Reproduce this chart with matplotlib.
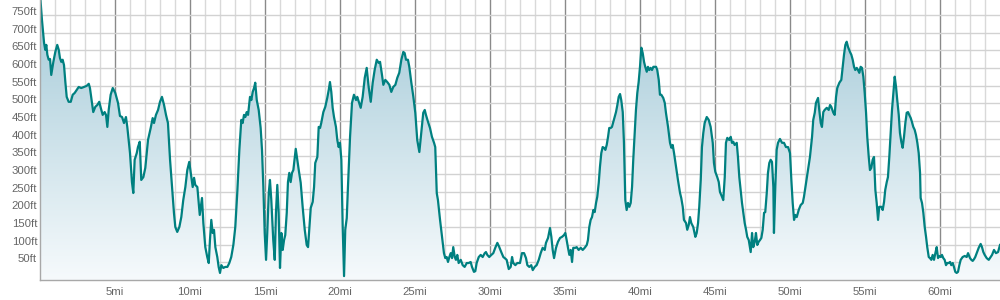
import numpy as np
import matplotlib
matplotlib.use("Agg")
import matplotlib.pyplot as plt
from matplotlib.colors import LinearSegmentedColormap

miles = [
    0.00, 0.13, 0.27, 0.35, 0.42, 0.49, 0.58, 0.67, 0.75, 0.89, 1.02, 1.15, 1.25, 1.33, 1.42, 1.51, 1.60, 1.69, 1.78, 1.91,
    2.05, 2.18, 2.31, 2.45, 2.58, 2.75, 2.93, 3.11, 3.25, 3.33, 3.42, 3.55, 3.69, 3.82, 3.95, 4.05, 4.18, 4.31, 4.40, 4.49,
    4.58, 4.71, 4.85, 5.02, 5.20, 5.33, 5.47, 5.60, 5.73, 5.82, 6.00, 6.13, 6.22, 6.31, 6.45, 6.53, 6.65, 6.75, 6.89, 7.02,
    7.20, 7.38, 7.51, 7.60, 7.73, 7.87, 8.00, 8.13, 8.27, 8.40, 8.53, 8.67, 8.80, 8.93, 9.02, 9.15, 9.29, 9.42, 9.55, 9.69,
    9.82, 9.95, 10.09, 10.18, 10.27, 10.35, 10.49, 10.65, 10.80, 10.89, 11.02, 11.15, 11.25, 11.33, 11.42, 11.51, 11.60,
    11.69, 11.82, 11.91, 12.00, 12.09, 12.22, 12.35, 12.49, 12.62, 12.75, 12.89, 13.02, 13.15, 13.29, 13.42, 13.51, 13.60,
    13.69, 13.78, 13.87, 14.00, 14.09, 14.18, 14.27, 14.35, 14.45, 14.58, 14.71, 14.80, 14.89, 14.98, 15.07, 15.15, 15.25,
    15.33, 15.42, 15.55, 15.65, 15.73, 15.82, 15.91, 16.00, 16.09, 16.18, 16.27, 16.35, 16.45, 16.53, 16.62, 16.71, 16.80,
    16.89, 16.98, 17.05, 17.15, 17.25, 17.38, 17.51, 17.65, 17.78, 17.87, 17.95, 18.05, 18.18, 18.27, 18.35, 18.49, 18.58,
    18.67, 18.75, 18.89, 19.02, 19.15, 19.25, 19.33, 19.42, 19.51, 19.60, 19.73, 19.82, 19.91, 20.00, 20.09, 20.18, 20.27,
    20.35, 20.45, 20.53, 20.67, 20.80, 20.93, 21.07, 21.15, 21.38, 21.51, 21.65, 21.78, 21.91, 22.05, 22.18, 22.31, 22.45,
    22.58, 22.67, 22.80, 22.89, 23.02, 23.15, 23.29, 23.42, 23.55, 23.69, 23.82, 23.95, 24.09, 24.22, 24.31, 24.40, 24.53,
    24.62, 24.75, 24.89, 25.02, 25.15, 25.29, 25.42, 25.55, 25.65, 25.73, 25.87, 26.00, 26.13, 26.27, 26.35, 26.45, 26.53,
    26.67, 26.80, 26.93, 27.02, 27.11, 27.20, 27.29, 27.38, 27.47, 27.55, 27.65, 27.73, 27.82, 27.91, 28.05, 28.18, 28.31,
    28.45, 28.58, 28.71, 28.80, 28.93, 29.02, 29.11, 29.25, 29.38, 29.51, 29.65, 29.73, 29.82, 29.95, 30.09, 30.22, 30.35,
    30.49, 30.62, 30.75, 30.89, 30.98, 31.11, 31.25, 31.38, 31.47, 31.55, 31.69, 31.82, 32.00, 32.13, 32.27, 32.40, 32.49,
    32.62, 32.75, 32.85, 32.98, 33.11, 33.25, 33.38, 33.51, 33.65, 33.73, 33.87, 34.00, 34.09, 34.18, 34.27, 34.40, 34.53,
    34.67, 34.80, 34.93, 35.02, 35.11, 35.20, 35.29, 35.38, 35.47, 35.55, 35.69, 35.78, 35.91, 36.05, 36.18, 36.31, 36.45,
    36.53, 36.62, 36.71, 36.80, 36.89, 36.98, 37.07, 37.15, 37.25, 37.33, 37.42, 37.51, 37.60, 37.69, 37.78, 37.87, 37.95,
    38.05, 38.13, 38.22, 38.31, 38.40, 38.49, 38.58, 38.67, 38.75, 38.85, 38.93, 39.02, 39.11, 39.20, 39.29, 39.38, 39.47,
    39.55, 39.65, 39.73, 39.82, 39.91, 40.00, 40.09, 40.18, 40.27, 40.35, 40.45, 40.53, 40.62, 40.71, 40.80, 40.89, 40.98,
    41.07, 41.15, 41.25, 41.33, 41.42, 41.55, 41.65, 41.73, 41.87, 42.00, 42.09, 42.18, 42.27, 42.40, 42.53, 42.67, 42.75,
    42.85, 42.93, 43.07, 43.15, 43.25, 43.33, 43.42, 43.55, 43.69, 43.78, 43.87, 43.95, 44.05, 44.13, 44.22, 44.31, 44.45,
    44.58, 44.71, 44.85, 44.93, 45.02, 45.15, 45.25, 45.33, 45.47, 45.55, 45.65, 45.73, 45.82, 45.95, 46.05, 46.13, 46.22,
    46.31, 46.45, 46.53, 46.62, 46.71, 46.80, 46.89, 46.98, 47.07, 47.15, 47.25, 47.33, 47.38, 47.47, 47.55, 47.65, 47.73,
    47.82, 47.91, 48.00, 48.09, 48.18, 48.27, 48.35, 48.45, 48.53, 48.62, 48.71, 48.80, 48.89, 48.93, 49.02, 49.11, 49.20,
    49.33, 49.47, 49.60, 49.73, 49.87, 50.00, 50.09, 50.18, 50.27, 50.35, 50.45, 50.58, 50.71, 50.85, 50.93, 51.07, 51.20,
    51.33, 51.47, 51.55, 51.65, 51.73, 51.87, 51.95, 52.05, 52.13, 52.22, 52.31, 52.45, 52.58, 52.67, 52.75, 52.89, 52.98,
    53.07, 53.15, 53.29, 53.42, 53.51, 53.60, 53.69, 53.78, 53.87, 54.00, 54.09, 54.18, 54.27, 54.35, 54.45, 54.53, 54.62,
    54.71, 54.80, 54.89, 54.98, 55.07, 55.15, 55.25, 55.33, 55.42, 55.51, 55.60, 55.69, 55.78, 55.87, 55.95, 56.09, 56.18,
    56.27, 56.35, 56.45, 56.53, 56.62, 56.71, 56.80, 56.89, 56.98, 57.07, 57.15, 57.25, 57.33, 57.42, 57.51, 57.60, 57.69,
    57.78, 57.87, 57.95, 58.05, 58.13, 58.22, 58.31, 58.40, 58.49, 58.58, 58.67, 58.71, 58.80, 58.89, 58.98, 59.07, 59.15,
    59.25, 59.33, 59.42, 59.51, 59.60, 59.69, 59.78, 59.87, 59.95, 60.05, 60.13, 60.22, 60.31, 60.40, 60.49, 60.58, 60.67,
    60.75, 60.85, 60.93, 61.02, 61.11, 61.20, 61.29, 61.38, 61.51, 61.65, 61.78, 61.87, 62.00, 62.09, 62.18, 62.27, 62.35,
    62.45, 62.58, 62.71, 62.80, 62.89, 62.98, 63.11, 63.25, 63.38, 63.47, 63.60, 63.73, 63.87, 64.00,
]

elevation_ft = [
    810, 736, 671, 651, 665, 637, 623, 625, 580, 617, 645, 665, 651, 628, 617, 623, 608, 560, 518, 504,
    504, 524, 529, 538, 546, 543, 546, 549, 555, 543, 515, 475, 490, 495, 504, 487, 467, 475, 467, 433,
    481, 524, 543, 529, 501, 464, 461, 444, 461, 433, 359, 277, 246, 340, 359, 376, 391, 283, 291, 317,
    396, 430, 458, 444, 467, 481, 504, 518, 495, 467, 444, 340, 263, 190, 150, 136, 150, 178, 226, 263,
    311, 334, 291, 263, 289, 269, 263, 184, 232, 161, 93, 65, 48, 113, 170, 133, 142,
    93, 65, 37, 20, 42, 34, 37, 37, 48, 65, 99, 150, 246, 368, 453, 444, 467,
    461, 475, 467, 518, 509, 532, 543, 558, 509, 481, 430, 368, 263, 133, 57, 133, 246,
    283, 226, 113, 57, 190, 269, 190, 34, 133, 85, 113, 127, 190, 277, 303, 277, 303,
    311, 345, 371, 340, 311, 275, 207, 142, 99, 93, 142, 204, 221, 263, 331, 348, 433,
    430, 444, 475, 490, 515, 538, 560, 532, 487, 461, 433, 396, 376, 388, 340, 150, 11,
    142, 175, 263, 405, 501, 524, 509, 518, 487, 518, 572, 600, 546, 504, 558, 594, 623,
    614, 617, 580, 552, 566, 560, 552, 532, 546, 552, 572, 586, 623, 645, 642, 623, 623,
    603, 560, 518, 473, 396, 362, 416, 473, 481, 467, 447, 430, 405, 388, 376, 246, 226,
    170, 122, 76, 62, 65, 51, 65, 76, 62, 93, 65, 57, 71, 48, 57, 42, 37,
    48, 48, 51, 37, 23, 25, 48, 65, 71, 65, 76, 79, 71, 65, 71, 76, 91,
    105, 93, 79, 65, 62, 57, 31, 37, 65, 48, 42, 48, 48, 76, 76, 62, 42,
    37, 42, 28, 37, 42, 57, 76, 91, 85, 105, 119, 147, 122, 85, 62, 91, 108,
    119, 122, 127, 133, 113, 91, 71, 85, 51, 91, 91, 93, 85, 91, 85, 91, 99,
    113, 150, 170, 178, 198, 192, 218, 235, 275, 320, 359, 376, 374, 368, 382, 405, 430,
    430, 433, 447, 461, 475, 495, 518, 526, 509, 475, 388, 226, 198, 218, 207, 218, 263,
    340, 416, 481, 529, 560, 603, 657, 642, 617, 603, 589, 603, 594, 600, 594, 603, 603,
    603, 594, 566, 524, 524, 515, 501, 473, 433, 388, 374, 382, 359, 320, 283, 246, 232,
    207, 170, 161, 142, 156, 178, 161, 150, 122, 133, 161, 207, 283, 376, 416, 444, 461,
    453, 433, 388, 331, 306, 291, 277, 249, 235, 226, 291, 388, 402, 396, 405, 388, 391,
    382, 388, 348, 291, 255, 218, 190, 161, 142, 122, 113, 91, 79, 133, 93, 108, 133,
    99, 108, 113, 119, 142, 190, 192, 246, 303, 331, 340, 334, 263, 133, 263, 368, 388,
    399, 388, 388, 376, 376, 359, 283, 218, 170, 184, 178, 198, 212, 218, 235, 275, 311,
    348, 405, 453, 473, 501, 515, 481, 444, 433, 475, 481, 487, 481, 495, 490, 473, 467,
    518, 543, 558, 566, 603, 637, 665, 674, 659, 645, 637, 623, 603, 594, 600, 594, 586,
    603, 600, 575, 529, 473, 405, 348, 311, 317, 340, 348, 255, 218, 170, 207, 207, 198,
    221, 255, 277, 291, 348, 416, 481, 529, 575, 546, 509, 467, 416, 391, 374, 405, 444,
    473, 475, 467, 458, 447, 433, 425, 410, 388, 359, 303, 232, 218, 190, 150, 122, 93,
    65, 62, 57, 71, 57, 76, 93, 62, 68, 65, 71, 62, 57, 42, 48, 48, 51,
    42, 48, 37, 23, 20, 23, 42, 57, 65, 68, 65, 76, 62, 57, 54, 59, 65,
    76, 91, 102, 93, 79, 71, 62, 57, 65, 71, 85, 76, 79, 99,
]

y_ticks = list(range(50, 751, 50))
y_tick_labels = [f"{v}ft" for v in y_ticks]
x_ticks = list(range(5, 61, 5))
x_tick_labels = [f"{v}mi" for v in x_ticks]

x = np.array(miles)
y = np.array(elevation_ft)

plt.rcParams['font.family'] = ['Liberation Sans', 'DejaVu Sans']

fig = plt.figure(figsize=(10, 3), dpi=100)
ax = fig.add_axes([0.04, 20 / 300, 0.96, 280 / 300])
ax.set_xlim(0, 64)
ax.set_ylim(0, 792)

# grid
for m in range(1, 64):
    if m % 5 == 0:
        ax.axvline(m, color='#8a8a8a', lw=1.0, zorder=0)
    else:
        ax.axvline(m, color='#d9d9d9', lw=1.0, zorder=0)
for v in y_ticks:
    ax.axhline(v, color='#d2d2d2', lw=1.0, zorder=0)

# gradient fill
cmap = LinearSegmentedColormap.from_list('g', ['#f6fafc', '#a4cad8'])
grad = np.linspace(0, 1, 256).reshape(-1, 1)
im = ax.imshow(grad, extent=[0, 64, 0, 792], origin='lower', aspect='auto',
               cmap=cmap, zorder=1, interpolation='bilinear')
fill = ax.fill_between(x, y, 0, facecolor='none', edgecolor='none', zorder=1)
im.set_clip_path(fill.get_paths()[0], transform=ax.transData)

ax.plot(x, y, color='#008080', lw=1.6, zorder=3, solid_joinstyle='round')

ax.set_xticks(x_ticks)
ax.set_xticklabels(x_tick_labels)
ax.set_yticks(y_ticks)
ax.set_yticklabels(y_tick_labels)
ax.tick_params(axis='both', length=0, labelsize=8.2, colors='#666666')
ax.tick_params(axis='x', pad=5)
ax.tick_params(axis='y', pad=2)
for t in ax.get_yticklabels():
    t.set_verticalalignment('baseline')

for s in ['top', 'right']:
    ax.spines[s].set_visible(False)
for s in ['left', 'bottom']:
    ax.spines[s].set_color('#a8a8a8')
    ax.spines[s].set_linewidth(1.0)
    ax.spines[s].set_zorder(4)

fig.savefig('out.png', dpi=100)
